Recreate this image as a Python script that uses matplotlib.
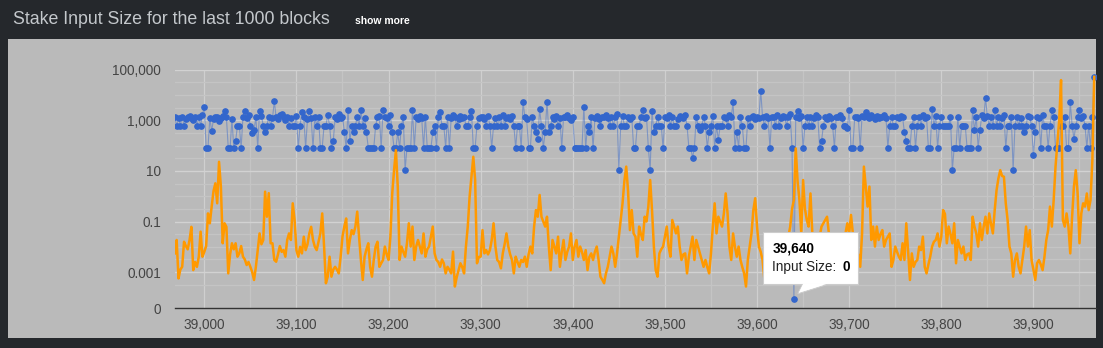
import numpy as np
import matplotlib.pyplot as plt
from matplotlib import transforms
from matplotlib.patches import Rectangle, Polygon

W, H = 1103, 348
FIRST_BLOCK = 38968
STEP = 2
TOOLTIP_BLOCK = 39640

# stake input size per sampled block (every second block)
input_size = [
    1300, 620, 1200, 620, 1400, 620, 1100, 1300, 1500, 1200, 1000, 1400, 620, 1300, 620, 1600, 3500, 83, 83, 1200, 380, 1100, 1400, 1300, 900,
    1200, 1500, 2400, 1300, 83, 83, 1100, 83, 150, 620, 620, 83, 1400, 2400, 1200, 1600, 620, 310, 420, 1300, 83, 2400, 1500, 620, 340,
    620, 1400, 620, 1200, 5600, 1300, 1100, 1600, 1800, 1300, 1000, 1400, 620, 1200, 620, 620, 1500, 83, 620, 2200, 1300, 83, 1100, 2400, 1200,
    83, 1400, 620, 1300, 83, 83, 620, 620, 1600, 620, 83, 150, 1300, 1100, 1700, 1200, 1400, 360, 83, 2500, 150, 620, 330, 620, 1300,
    620, 2500, 620, 1200, 330, 83, 83, 83, 83, 620, 1300, 1500, 83, 2500, 1400, 1200, 620, 1600, 330, 83, 83, 330, 83, 620, 1300,
    11, 83, 83, 83, 2500, 83, 1300, 1100, 1500, 1200, 83, 1400, 83, 83, 83, 330, 620, 83, 1300, 2200, 620, 620, 83, 1400, 83,
    1200, 1600, 1300, 620, 1100, 1500, 1200, 1400, 620, 620, 1300, 2300, 83, 83, 620, 1200, 1400, 1300, 1100, 620, 1500, 620, 83, 620, 1200,
    620, 1300, 620, 1600, 620, 1200, 1400, 1100, 1500, 620, 83, 620, 620, 83, 5400, 1300, 1100, 83, 83, 1400, 620, 360, 190, 2700, 620,
    83, 330, 5400, 330, 620, 1300, 1100, 1500, 620, 1200, 83, 1400, 1300, 1600, 1200, 1000, 1400, 83, 83, 83, 83, 83, 3400, 83, 620,
    330, 1300, 83, 1200, 1500, 1100, 620, 1400, 1300, 1600, 1200, 620, 1400, 620, 1300, 1800, 11, 620, 1500, 620, 620, 1300, 1100, 1400, 83,
    83, 620, 620, 1300, 2500, 1200, 1400, 83, 11, 2400, 330, 620, 1300, 620, 620, 83, 1400, 1200, 1600, 620, 1300, 620, 620, 1100, 1500,
    1300, 1200, 1600, 620, 83, 83, 33, 83, 1400, 620, 400, 620, 1300, 620, 83, 330, 620, 1500, 83, 620, 170, 620, 620, 1400, 1200,
    620, 1600, 1300, 5400, 83, 330, 83, 1400, 620, 83, 83, 1200, 620, 1300, 1500, 1100, 1400, 1200, 15000, 1300, 620, 1500, 1200, 83, 1400,
    1300, 620, 1600, 620, 1200, 1500, 1300, 620, 1400, 1700, 83, 0, 1300, 2400, 1200, 1500, 83, 620, 1300, 620, 1400, 620, 1200, 1600, 1300,
    83, 150, 620, 1300, 1100, 1500, 1200, 620, 83, 1400, 1300, 1600, 1200, 620, 620, 490, 2500, 83, 83, 1300, 1400, 1200, 83, 1500, 1300,
    2200, 1400, 1200, 1600, 1300, 1100, 1500, 1200, 1400, 1300, 1600, 1200, 83, 620, 1300, 620, 620, 1400, 1200, 1500, 1300, 330, 150, 83, 83,
    620, 1300, 83, 620, 1400, 620, 1600, 1200, 1300, 83, 83, 2700, 620, 1500, 83, 620, 1300, 620, 620, 620, 620, 1400, 11, 83, 83,
    1300, 83, 620, 620, 620, 83, 83, 83, 2500, 400, 1300, 83, 400, 1600, 1200, 7400, 1500, 620, 1300, 620, 2500, 620, 1400, 620, 1200,
    1600, 83, 620, 620, 1300, 11, 620, 1400, 620, 1200, 620, 330, 620, 1500, 1300, 620, 42, 330, 1400, 1200, 83, 1600, 620, 620, 83,
    620, 2500, 1300, 83, 83, 83, 620, 620, 1400, 83, 83, 5400, 620, 190, 620, 1300, 2500, 1200, 1500, 620, 83, 620, 83, 1300, 50000,
]

# second series, stored as log10 of its value
trend_log = [
    -2.26, -1.73, -3.25, -2.9, -2.79, -1.8, -1.97, -2.1, -1.73, -1.21, -2.92, -2.6, -2.79, -2.4, -1.4, -2.39, -2.2, -1.97, -0.68, -1.07, -0.41, 0.2, 0.51, -0.28, 1.36,
    0.38, -1.86, -1.07, -1.21, -3.05, -2.3, -1.86, -2.1, -1.86, -2.39, -2.26, -1.97, -2.39, -2.5, -2.72, -2.6, -2.79, -3.0, -3.31, -2.79, -2.13, -1.47, -1.9, -1.73, 0.18,
    -0.81, 0.12, -1.86, -1.86, -2.52, -2.59, -2.3, -1.97, -2.2, -2.13, -2.39, -1.73, -1.47, -1.73, -0.28, -0.94, -2.13, -2.39, -2.0, -2.26, -1.6, -2.13, -1.9, -1.47, -1.21,
    -1.73, -2.0, -2.13, -1.8, -1.47, -0.68, -1.97, -3.44, -3.18, -2.39, -3.18, -2.9, -2.79, -2.9, -3.05, -2.39, -1.6, -1.2, -0.88, -2.26, -1.73, -1.34, -1.5, -1.2, -0.61,
    -1.6, -2.52, -3.31, -2.39, -2.1, -1.86, -2.79, -3.18, -2.5, -1.99, -1.8, -2.79, -2.65, -2.52, -1.99, -2.3, -2.52, -1.6, 0.11, 1.03, 1.82, 0.38, -2.52, -1.99, -2.2,
    -2.39, -1.86, -1.07, -1.99, -1.2, -2.52, -1.99, -1.73, -2.0, -2.26, -1.47, -2.39, -2.1, -1.99, -1.6, -1.2, -2.26, -2.52, -2.6, -2.79, -2.5, -2.65, -3.05, -2.79, -2.9,
    -3.05, -2.19, -3.57, -3.2, -2.92, -2.65, -2.8, -3.05, -1.99, -1.2, -0.02, 0.77, 1.56, 0.64, -2.65, -2.4, -2.39, -1.34, -2.26, -2.13, -2.3, -2.13, -1.73, -1.07, -1.99,
    -2.52, -2.6, -2.85, -2.26, -1.9, -1.47, -1.99, -2.3, -2.52, -3.05, -2.39, -2.6, -2.79, -2.52, -2.6, -2.39, -2.79, -2.3, -1.99, -2.26, -1.2, -0.55, -0.81, 0.05, -0.81,
    -1.0, -1.2, -0.81, -1.99, -2.92, -1.73, -2.0, -2.26, -1.6, -2.79, -2.2, -1.73, -2.52, -2.2, -1.99, -1.47, -2.52, -2.0, -1.73, -2.39, -1.99, -2.2, -2.52, -2.13, -2.92,
    -2.4, -2.26, -2.52, -2.2, -1.99, -2.52, -3.18, -3.3, -3.44, -3.05, -2.79, -2.4, -1.99, -2.26, -2.79, -2.26, -1.6, -0.94, -0.28, 0.6, 1.17, 0.2, -1.34, -0.55, -1.47,
    -1.6, -2.39, -1.2, -1.5, -1.73, -0.81, -1.0, -0.41, 0.64, -0.55, -1.99, -2.92, -3.18, -2.26, -2.1, -1.99, -1.6, -1.2, -1.99, -2.39, -0.94, -1.2, -1.47, -1.2, -1.99,
    -2.52, -2.3, -2.26, -3.05, -2.39, -2.0, -1.6, -2.52, -1.73, -2.0, -2.26, -2.52, -2.79, -2.52, -2.8, -3.05, -2.26, -1.2, -0.28, -1.47, -0.81, -1.0, -1.2, -0.68, 0.11,
    -0.68, -1.99, -2.52, -1.47, -2.0, -2.39, -1.99, -2.52, -2.8, -3.05, -3.57, -2.52, -2.0, -1.47, -0.55, -0.08, -1.2, -1.99, -2.2, -2.52, -3.31, -2.6, -2.2, -2.5, -2.0,
    -2.3, -1.9, -2.4, -2.1, -2.6, -2.2, -1.8, -2.3, -1.6, -1.2, -0.5, -0.15, 1.89, 0.6, -0.15, -1.47, 0.64, -0.5, -0.94, -1.2, 0.11, -1.47, -1.99, -2.2, -2.0,
    -1.6, -1.2, -1.07, -0.94, -0.81, -1.47, -1.9, -2.3, -2.0, -2.5, -2.2, -1.8, -2.0, -1.6, -1.47, -1.07, -1.47, -0.74, -1.47, -2.0, -2.52, -2.3, -2.79, -1.47, 1.17,
    0.38, -0.41, 0.38, -1.73, -1.2, -1.99, -1.2, -1.73, -1.5, -1.34, -1.99, -1.73, -1.6, -1.47, -2.79, -2.52, -1.99, -2.2, -2.39, -2.52, -1.86, -2.52, -1.07, -2.2, -3.31,
    -2.26, -2.79, -2.6, -2.52, -1.99, -2.13, -1.6, -2.79, -3.05, -2.7, -2.39, -1.99, -1.8, -1.73, -1.47, -1.99, -1.6, -0.55, -0.7, -1.86, -1.2, -1.5, -1.86, -1.07, -2.65,
    -1.73, -2.0, -2.26, -1.99, -2.52, -2.3, -2.26, -2.52, -0.81, -1.2, -1.47, -1.99, -1.07, -1.73, -1.2, -0.81, -1.47, -0.68, -1.1, -1.47, -0.55, 0.24, 0.7, 1.03, 0.8,
    0.77, -0.28, -0.94, -1.99, -2.26, -3.18, -2.52, -2.26, -2.79, -3.05, -2.52, -1.99, -1.2, -1.99, -1.34, -2.52, -2.9, -3.31, -2.65, -2.52, -2.7, -2.92, -2.39, -1.73, -1.34,
    -0.41, -1.2, -0.15, 1.17, 2.09, 3.01, 4.59, -0.94, -1.2, -0.68, -1.2, -2.26, -0.81, 0.38, 1.03, 0.11, -1.86, -0.68, -0.28, -0.41, 0.11, -0.55, -0.15, 1.43, 4.72,
]

y_ticks = [5, 3, 1, -1, -3]
y_tick_labels = ['100,000', '1,000', '10', '0.1', '0.001']
x_ticks = list(range(39000, 40000, 100))

ZERO_POS = -4.05     # where a zero input size sits on the log axis
AXIS_BOTTOM = -4.43  # the "0" label sits on the baseline
AXIS_TOP = 5.0

blocks = FIRST_BLOCK + STEP * np.arange(len(input_size))
sizes = np.array(input_size, dtype=float)
size_pos = np.where(sizes > 0, np.log10(np.where(sizes > 0, sizes, 1)), ZERO_POS)
trend_pos = np.array(trend_log)

plt.rcParams['font.family'] = ['Liberation Sans', 'DejaVu Sans']

fig = plt.figure(figsize=(W / 100, H / 100), dpi=100)
fig.patch.set_facecolor('#25282c')

# grey chart panel
fig.add_artist(Rectangle((8 / W, 1 - 338 / H), 1088 / W, 299 / H,
                         transform=fig.transFigure, facecolor='#bababa',
                         edgecolor='none', zorder=0))

fig.text(13 / W, 1 - 20 / H, 'Stake Input Size for the last 1000 blocks',
         color='#c4c8cc', fontsize=12.8, va='center', ha='left')
fig.text(355 / W, 1 - 21 / H, 'show more', color='white', fontsize=7.5,
         fontweight='bold', va='center', ha='left')

ax = fig.add_axes([175 / W, 1 - 308.3 / H, 920.5 / W, (308.3 - 69.7) / H])
ax.patch.set_visible(False)
ax.set_xlim(38968.2, 39967.4)
ax.set_ylim(AXIS_BOTTOM, AXIS_TOP)

# gridlines
for b in range(38950, 40000, 50):
    major = b % 100 == 0
    ax.axvline(b, color='#cfcfcf' if major else '#c4c4c4', lw=0.9, zorder=1)
for v in np.arange(-3.5, 5.0, 0.5):
    if v in y_ticks:
        continue
    ax.axhline(v, color='#c4c4c4', lw=0.9, zorder=1)
for v in y_ticks:
    ax.axhline(v, color='#d2d2d2', lw=1.0, zorder=1)

ax.plot(blocks, size_pos, color='#3366cc', lw=0.8, alpha=0.45, zorder=2)
ax.plot(blocks, size_pos, ls='none', marker='o', ms=3.8, color='#3366cc',
        mec='#3366cc', zorder=3)
ax.plot(blocks, trend_pos, color='#ff9900', lw=1.8, zorder=4,
        solid_joinstyle='round')

for s in ['top', 'right', 'left']:
    ax.spines[s].set_visible(False)
ax.spines['bottom'].set_color('#333333')
ax.spines['bottom'].set_linewidth(1.0)
ax.spines['bottom'].set_zorder(5)

ax.set_yticks(y_ticks + [AXIS_BOTTOM])
ax.set_yticklabels(y_tick_labels + ['0'])
ax.set_xticks(x_ticks)
ax.set_xticklabels([f'{b:,}' for b in x_ticks])
ax.tick_params(axis='y', length=0, pad=10, labelsize=9.8, labelcolor='#444444')
ax.tick_params(axis='x', length=0, pad=7, labelsize=9.8, labelcolor='#444444')

# tooltip over the zero-size block
tip_x, tip_y = ax.transData.transform((TOOLTIP_BLOCK, ZERO_POS))
ident = transforms.IdentityTransform()
tail = Polygon([(tip_x + 4, tip_y + 5), (tip_x + 9, tip_y + 15),
                (tip_x + 36, tip_y + 15)], closed=True, transform=ident,
               facecolor='white', edgecolor='#cccccc', lw=0.8, zorder=10)
box = Rectangle((tip_x - 31, tip_y + 14.5), 95.5, 52, transform=ident,
                facecolor='white', edgecolor='#cccccc', lw=0.8, zorder=11)
cover = Polygon([(tip_x + 5, tip_y + 6), (tip_x + 9.5, tip_y + 15.5),
                 (tip_x + 35, tip_y + 15.5)], closed=True, transform=ident,
                facecolor='white', edgecolor='none', zorder=12)
fig.add_artist(tail)
fig.add_artist(box)
fig.add_artist(cover)
fig.text(tip_x - 21.7, tip_y + 50.4, f'{TOOLTIP_BLOCK:,}', transform=ident,
         fontsize=9.8, fontweight='bold', color='black', va='center', zorder=13)
fig.text(tip_x - 21.7, tip_y + 32, 'Input Size: ', transform=ident,
         fontsize=9.8, color='#222222', va='center', zorder=13)
fig.text(tip_x + 48.7, tip_y + 32, f'{int(sizes[(TOOLTIP_BLOCK - FIRST_BLOCK) // STEP])}',
         transform=ident, fontsize=9.8, fontweight='bold', color='black',
         va='center', zorder=13)

fig.savefig('out.png', dpi=100, facecolor=fig.get_facecolor())
